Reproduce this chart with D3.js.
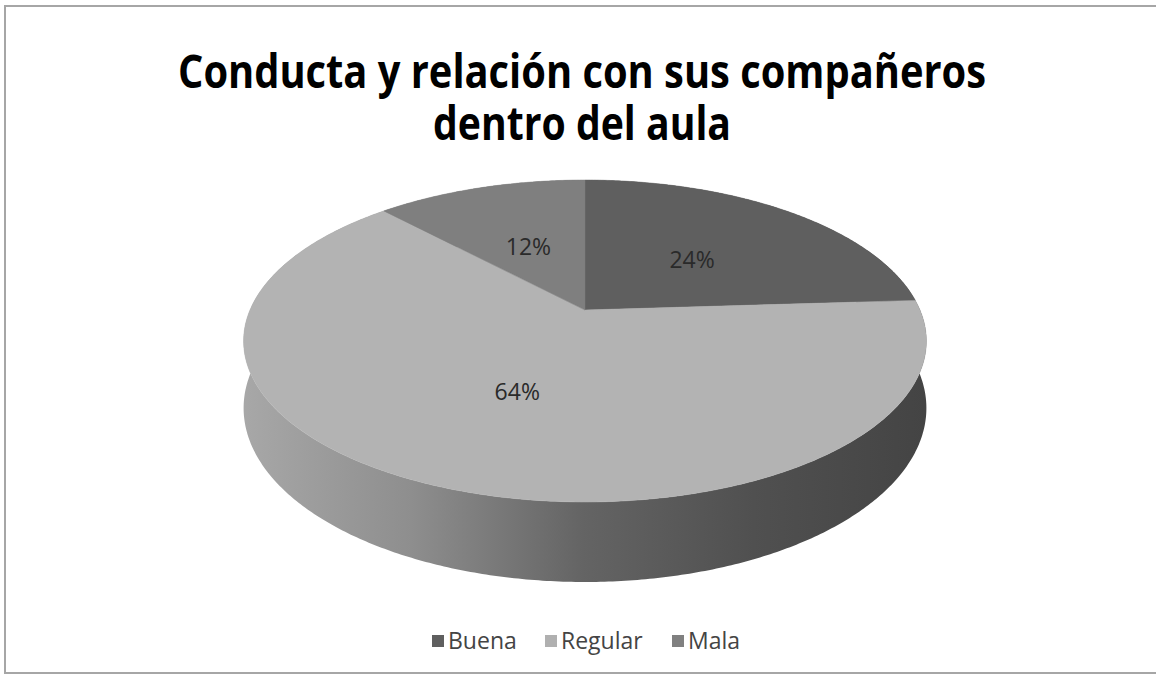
<!DOCTYPE html>
<html>
<head>
<meta charset="utf-8">
<script src="https://cdn.jsdelivr.net/npm/d3@7"></script>
<style>
  body { margin: 0; background: #fff; }
  svg { display: block; }
</style>
</head>
<body>
<div id="chart"></div>
<script>
const categories = ['Buena', 'Regular', 'Mala'];
const values = [24, 64, 12];
const labels = ['24%', '64%', '12%'];
const titleLines = ['Conducta y relación con sus compañeros', 'dentro del aula'];

const topColors = ['#5f5f5f', '#b3b3b3', '#7f7f7f'];
const legendColors = ['#5f5f5f', '#b0b0b0', '#808080'];

const width = 1156;
const height = 674;

const svg = d3.select('#chart')
  .append('svg')
  .attr('width', width)
  .attr('height', height);

// frame (right edge is cut off in the original)
svg.append('rect')
  .attr('x', 5)
  .attr('y', 6)
  .attr('width', 1200)
  .attr('height', 667)
  .attr('fill', '#fff')
  .attr('stroke', '#a6a6a6')
  .attr('stroke-width', 2);

// title, one text block with two lines
svg.append('text')
  .attr('text-anchor', 'middle')
  .attr('font-family', 'Open Sans, sans-serif')
  .attr('font-weight', 'bold')
  .attr('font-size', 46)
  .attr('fill', '#000')
  .selectAll('tspan')
  .data(titleLines)
  .join('tspan')
  .attr('x', 582)
  .attr('y', (d, i) => 88 + i * 52)
  .attr('textLength', (d, i) => i === 0 ? 808 : 298)
  .attr('lengthAdjust', 'spacingAndGlyphs')
  .text(d => d);

// 3d pie with a little perspective
const cx = 585, cy = 310;
const A = 335, B = 155, k = 0.1926, D = 64.6;

const proj = (theta, r, z) => {
  const u = r * Math.sin(theta);
  const v = r * Math.cos(theta);
  const s = 1 / (1 + k * v);
  return [cx + A * u * s, cy - B * v * s + z * D * s];
};

const pie = d3.pie().sort(null).value(d => d).startAngle(0).endAngle(2 * Math.PI);
const arcs = pie(values);

const defs = svg.append('defs');
const grad = defs.append('linearGradient')
  .attr('id', 'side-grad')
  .attr('gradientUnits', 'userSpaceOnUse')
  .attr('x1', 240).attr('x2', 925)
  .attr('y1', 0).attr('y2', 0);
grad.append('stop').attr('offset', '0%').attr('stop-color', '#a8a8a8');
grad.append('stop').attr('offset', '25%').attr('stop-color', '#8e8e8e');
grad.append('stop').attr('offset', '50%').attr('stop-color', '#646464');
grad.append('stop').attr('offset', '75%').attr('stop-color', '#505050');
grad.append('stop').attr('offset', '100%').attr('stop-color', '#444444');

const sample = (a0, a1) => {
  const n = Math.max(2, Math.ceil((a1 - a0) / 0.01));
  return d3.range(n + 1).map(i => a0 + (a1 - a0) * i / n);
};

const sidePath = d => {
  const ts = sample(d.startAngle, d.endAngle);
  const topPts = ts.map(t => proj(t, 1, 0));
  const botPts = ts.slice().reverse().map(t => proj(t, 1, 1));
  return d3.line()(topPts.concat(botPts)) + 'Z';
};

const topPath = d => {
  const ts = sample(d.startAngle, d.endAngle);
  const pts = [proj(0, 0, 0)].concat(ts.map(t => proj(t, 1, 0)));
  return d3.line()(pts) + 'Z';
};

svg.append('g')
  .selectAll('path')
  .data(arcs)
  .join('path')
  .attr('d', sidePath)
  .attr('fill', 'url(#side-grad)');

svg.append('g')
  .selectAll('path')
  .data(arcs)
  .join('path')
  .attr('d', topPath)
  .attr('fill', (d, i) => topColors[i])
  .attr('stroke', (d, i) => topColors[i])
  .attr('stroke-width', 0.5);

svg.append('g')
  .selectAll('text')
  .data(arcs)
  .join('text')
  .attr('x', d => proj((d.startAngle + d.endAngle) / 2, 0.5, 0)[0])
  .attr('y', d => proj((d.startAngle + d.endAngle) / 2, 0.5, 0)[1] + 11)
  .attr('text-anchor', 'middle')
  .attr('font-family', 'Open Sans, sans-serif')
  .attr('font-size', 23)
  .attr('fill', '#2a2a2a')
  .text((d, i) => labels[i]);

// legend
const legendX = [432, 545, 672];
const legend = svg.append('g')
  .selectAll('g')
  .data(categories)
  .join('g')
  .attr('transform', (d, i) => `translate(${legendX[i]},635)`);
legend.append('rect')
  .attr('width', 12)
  .attr('height', 12)
  .attr('fill', (d, i) => legendColors[i]);
legend.append('text')
  .attr('x', 16)
  .attr('y', 14)
  .attr('font-family', 'Open Sans, sans-serif')
  .attr('font-size', 23)
  .attr('fill', '#444')
  .text(d => d);
</script>
</body>
</html>
